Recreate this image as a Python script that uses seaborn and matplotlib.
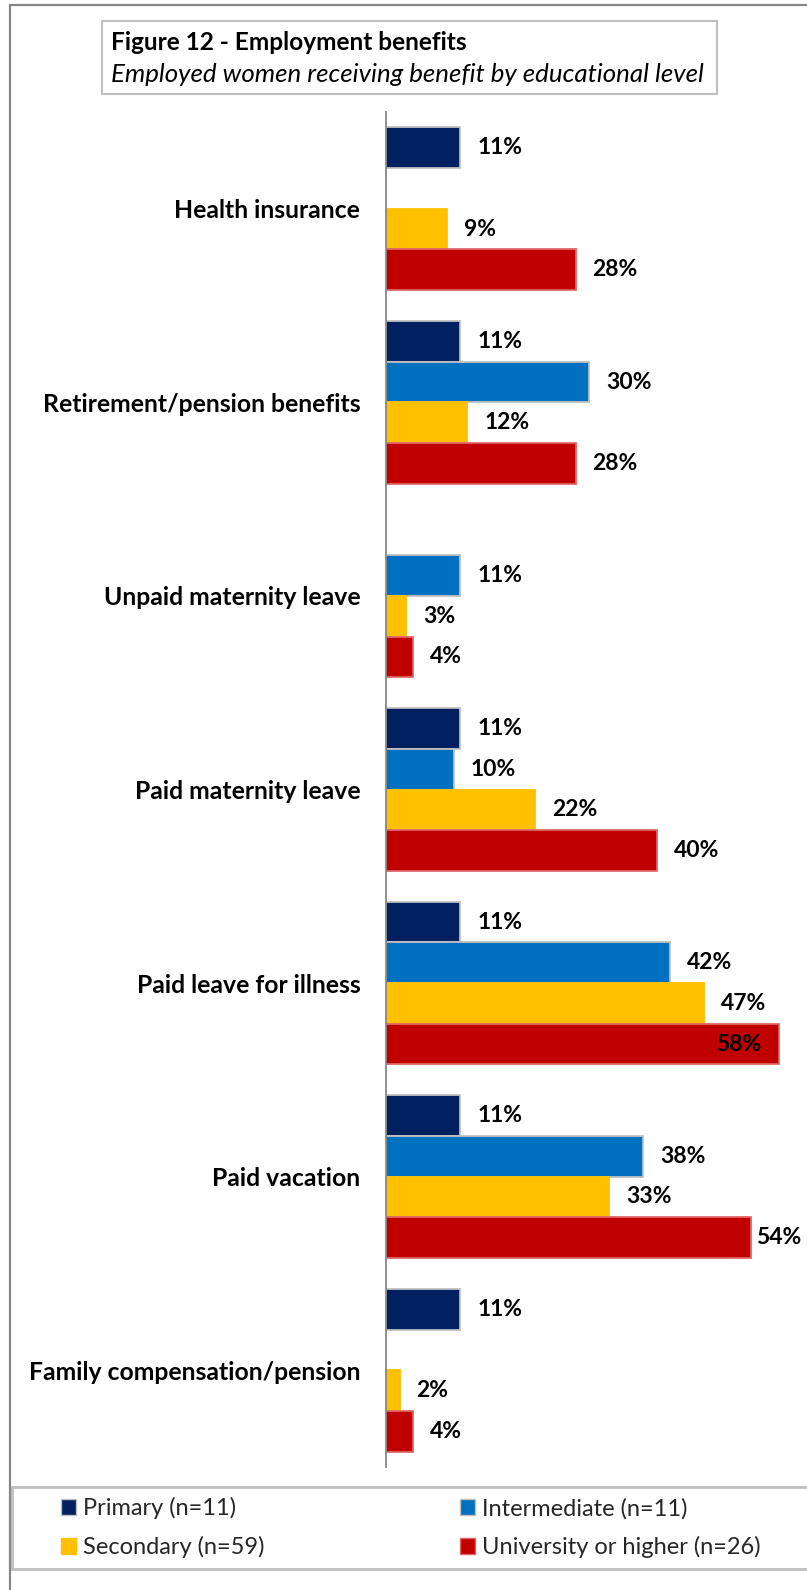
import numpy as np
import pandas as pd
import matplotlib
matplotlib.use("Agg")
import matplotlib.pyplot as plt
from matplotlib.patches import Rectangle, Patch
from matplotlib.lines import Line2D
import seaborn as sns

# Benefit categories (top to bottom)
benefits = [
    "Health insurance",
    "Retirement/pension benefits",
    "Unpaid maternity leave",
    "Paid maternity leave",
    "Paid leave for illness",
    "Paid vacation",
    "Family compensation/pension",
]

# Education levels (legend labels)
levels = [
    "Primary (n=11)",
    "Intermediate (n=11)",
    "Secondary (n=59)",
    "University or higher (n=26)",
]

# Share of employed women receiving each benefit, % (NaN = no bar)
primary = [11, 11, np.nan, 11, 11, 11, 11]
intermediate = [np.nan, 30, 11, 10, 42, 38, np.nan]
secondary = [9, 12, 3, 22, 47, 33, 2]
university = [28, 28, 4, 40, 58, 54, 4]

colors = ["#002060", "#0070C0", "#FFC000", "#C00000"]
edges = ["#BFBFBF", "#BFBFBF", "#FFC000", "#E06666"]

rows = []
for lvl, vals in zip(levels, [primary, intermediate, secondary, university]):
    for b, v in zip(benefits, vals):
        rows.append({"benefit": b, "level": lvl, "value": v})
df = pd.DataFrame(rows).dropna()

sns.set_theme(style="white")
plt.rcParams["font.family"] = ["Lato", "DejaVu Sans"]

W, H = 807, 1590
fig = plt.figure(figsize=(W / 100, H / 100), dpi=100)
fig.patch.set_facecolor("white")

# axes placement in figure fractions
ax_left, ax_right = 386 / W, 1.0
ax_top, ax_bottom = 1 - 112 / H, 1 - 1467 / H
ax = fig.add_axes([ax_left, ax_bottom, ax_right - ax_left, ax_top - ax_bottom])

sns.barplot(
    data=df, x="value", y="benefit", hue="level",
    order=benefits, hue_order=levels, palette=colors,
    orient="h", width=0.84, dodge=True, errorbar=None,
    saturation=1.0, legend=False, ax=ax,
)

XMAX = 62.2
ax.set_xlim(0, XMAX)
ax.set_ylim(len(benefits) - 0.5, -0.5)

for cont, ec in zip(ax.containers, edges):
    for bar in cont:
        bar.set_edgecolor(ec)
        bar.set_linewidth(1.3)

# value labels
LBL = dict(fontsize=16.5, fontweight="bold", color="black", va="center")
for cont in ax.containers:
    for bar in cont:
        v = bar.get_width()
        if not np.isfinite(v) or v <= 0:
            continue
        yc = bar.get_y() + bar.get_height() / 2
        txt = f"{v:.0f}%"
        if v >= 56:
            ax.text(v - 2.5, yc, txt, ha="right", **LBL)
        elif v + 10 > XMAX:
            ax.text(XMAX - 0.9, yc, txt, ha="right", **LBL)
        else:
            ax.text(v + 2.5, yc, txt, ha="left", **LBL)

ax.set_xlabel("")
ax.set_ylabel("")
ax.set_xticks([])
ax.tick_params(axis="y", length=0, pad=18.5)
for lab in ax.get_yticklabels():
    lab.set_fontweight("bold")
    lab.set_fontsize(17.8)
    lab.set_color("black")
for s in ["top", "right", "bottom"]:
    ax.spines[s].set_visible(False)
ax.spines["left"].set_color("#868686")
ax.spines["left"].set_linewidth(1.3)
ax.patch.set_alpha(0)

# outer frame (left and top edges)
fig.add_artist(Line2D([10 / W, 10 / W], [0, 1 - 5 / H], transform=fig.transFigure,
                      color="#868686", lw=1.6))
fig.add_artist(Line2D([10 / W, 1], [1 - 5 / H, 1 - 5 / H], transform=fig.transFigure,
                      color="#868686", lw=1.6))

# title box
fig.add_artist(Rectangle((102 / W, 1 - 94 / H), 615 / W, 73 / H,
                         transform=fig.transFigure, facecolor="white",
                         edgecolor="#BFBFBF", lw=1.5))
fig.text(111 / W, 1 - 50 / H, "Figure 12 - Employment benefits",
         fontsize=17.6, fontweight="bold", color="black", va="baseline")
fig.text(111 / W, 1 - 82 / H, "Employed women receiving benefit by educational level",
         fontsize=18.6, fontstyle="italic", color="black", va="baseline")

# legend box
fig.add_artist(Rectangle((12 / W, 1 - 1569 / H), 820 / W, 82 / H,
                         transform=fig.transFigure, facecolor="white",
                         edgecolor="#BFBFBF", lw=2))
handles = [Patch(facecolor=c, edgecolor=e, lw=1) for c, e in zip(colors, edges)]
order = [0, 2, 1, 3]
fig.legend([handles[i] for i in order], [levels[i] for i in order],
           ncol=2, loc="upper left",
           bbox_to_anchor=(61 / W, 1 - 1497 / H), frameon=False,
           fontsize=17, handlelength=0.63, handleheight=0.63,
           handletextpad=0.3, columnspacing=8.3, labelspacing=0.72,
           borderpad=0, borderaxespad=0)

fig.savefig("out.png", dpi=100, facecolor="white")
